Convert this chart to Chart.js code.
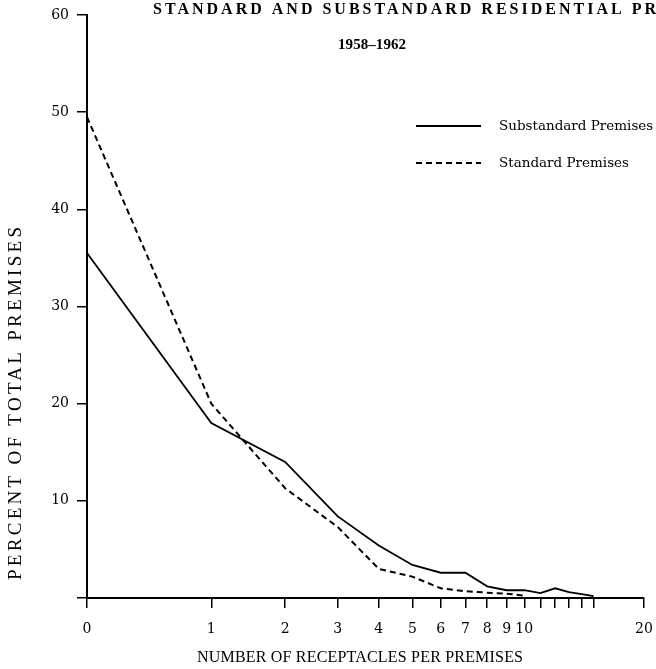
<!DOCTYPE html>
<html><head><meta charset="utf-8">
<script src="https://cdn.jsdelivr.net/npm/chart.js@4.4.1/dist/chart.umd.min.js"></script>
<style>html,body{margin:0;padding:0;background:#fff;} #wrap{width:656px;height:669px;position:relative;}</style>
</head><body><div id="wrap"><canvas id="c" width="656" height="669"></canvas></div>
<script>
// ---- data ----
const receptacleCounts = [0,1,2,3,4,5,6,7,8,9,10,11,12,13,14,15];
const substandardPct = [35.5,18.0,14.0,8.4,5.4,3.4,2.6,2.6,1.2,0.8,0.8,0.5,1.0,0.6,0.4,0.2];
const standardCounts = [0,1,2,3,4,5,6,7,8,9,10];
const standardPct = [49.5,20.0,11.3,7.3,3.0,2.2,1.0,0.7,0.55,0.45,0.25];
const xTickValues = [0,1,2,3,4,5,6,7,8,9,10,11,12,13,14,15,20];
const xTickLabels = ['0','1','2','3','4','5','6','7','8','9','10','','','','','','20'];
const yTickLabels = ['', '10', '20', '30', '40', '50', '60'];
const seriesNames = ['Substandard Premises', 'Standard Premises'];
const titleLine1 = 'STANDARD AND SUBSTANDARD RESIDENTIAL PR';
const titleLine2 = '1958\u20131962';
const xTitle = 'NUMBER OF RECEPTACLES PER PREMISES';
const yTitle = 'PERCENT OF TOTAL PREMISES';

// scale transform (logarithmic-like axis of the original)
const C = 1.05;
const f = n => Math.log10((n + C) / C);

const SERIF = '"DejaVu Serif", "Liberation Serif", serif';
const LSERIF = '"Liberation Serif", serif';

function fitText(ctx, text, x, y, width) {
  ctx.letterSpacing = '0px';
  const w = ctx.measureText(text).width;
  const sp = (width - w) / Math.max(1, text.length - 1);
  ctx.letterSpacing = sp + 'px';
  ctx.textAlign = 'left';
  ctx.fillText(text, x, y);
  ctx.letterSpacing = '0px';
}

const decor = {
  id: 'decor',
  afterDraw(chart) {
    const ctx = chart.ctx;
    ctx.save();
    ctx.fillStyle = '#000';
    ctx.textBaseline = 'middle';
    // title
    ctx.font = 'bold 16px ' + LSERIF;
    fitText(ctx, titleLine1, 153, 10, 503);
    ctx.font = 'bold 15px ' + LSERIF;
    fitText(ctx, titleLine2, 338, 45, 68);
    // x title
    ctx.font = '16px ' + LSERIF;
    fitText(ctx, xTitle, 197, 658, 326);
    // y title
    ctx.save();
    ctx.translate(16, 580);
    ctx.rotate(-Math.PI / 2);
    ctx.font = '19px ' + LSERIF;
    fitText(ctx, yTitle, 0, 0, 353);
    ctx.restore();
    // legend
    const ds = chart.data.datasets;
    const rows = [126, 163];
    ctx.font = '13.5px ' + SERIF;
    ds.forEach((d, i) => {
      ctx.beginPath();
      ctx.strokeStyle = d.borderColor;
      ctx.lineWidth = d.borderWidth;
      ctx.setLineDash(d.borderDash || []);
      ctx.moveTo(416, rows[i]);
      ctx.lineTo(481, rows[i]);
      ctx.stroke();
      ctx.setLineDash([]);
      ctx.textAlign = 'left';
      ctx.fillText(d.label, 499, rows[i]);
    });
    ctx.restore();
  }
};

new Chart(document.getElementById('c'), {
  type: 'line',
  data: {
    datasets: [
      {
        label: seriesNames[0],
        data: substandardPct.map((v, i) => ({ x: f(receptacleCounts[i]), y: v })),
        borderColor: '#000', borderWidth: 1.8, pointRadius: 0, tension: 0, fill: false
      },
      {
        label: seriesNames[1],
        data: standardPct.map((v, i) => ({ x: f(standardCounts[i]), y: v })),
        borderColor: '#000', borderWidth: 2, borderDash: [6, 4], pointRadius: 0, tension: 0, fill: false
      }
    ]
  },
  options: {
    responsive: false,
    animation: false,
    devicePixelRatio: 1,
    layout: { padding: { top: 15, right: 12, left: 0, bottom: 0 } },
    plugins: { legend: { display: false }, tooltip: { enabled: false }, title: { display: false } },
    scales: {
      x: {
        type: 'linear', min: 0, max: f(20),
        afterBuildTicks: s => { s.ticks = xTickValues.map(n => ({ value: f(n) })); },
        afterFit: s => { s.height = 71; s.paddingLeft = 0; s.paddingRight = 0; },
        ticks: {
          autoSkip: false, maxRotation: 0, padding: 13, color: '#000',
          font: { family: SERIF, size: 14 },
          callback: (v, i) => xTickLabels[i]
        },
        grid: { drawOnChartArea: false, drawTicks: true, tickLength: 10, color: '#000', lineWidth: 1.5 },
        border: { display: true, color: '#000', width: 2 }
      },
      y: {
        min: 0, max: 60,
        afterFit: s => { s.width = 87; s.paddingTop = 0; s.paddingBottom = 0; },
        ticks: {
          stepSize: 10, padding: 8, color: '#000',
          font: { family: SERIF, size: 14 },
          callback: (v, i) => yTickLabels[i]
        },
        grid: { drawOnChartArea: false, drawTicks: true, tickLength: 10, color: '#000', lineWidth: 1.5 },
        border: { display: true, color: '#000', width: 2 }
      }
    }
  },
  plugins: [decor]
});
</script>
</body></html>
